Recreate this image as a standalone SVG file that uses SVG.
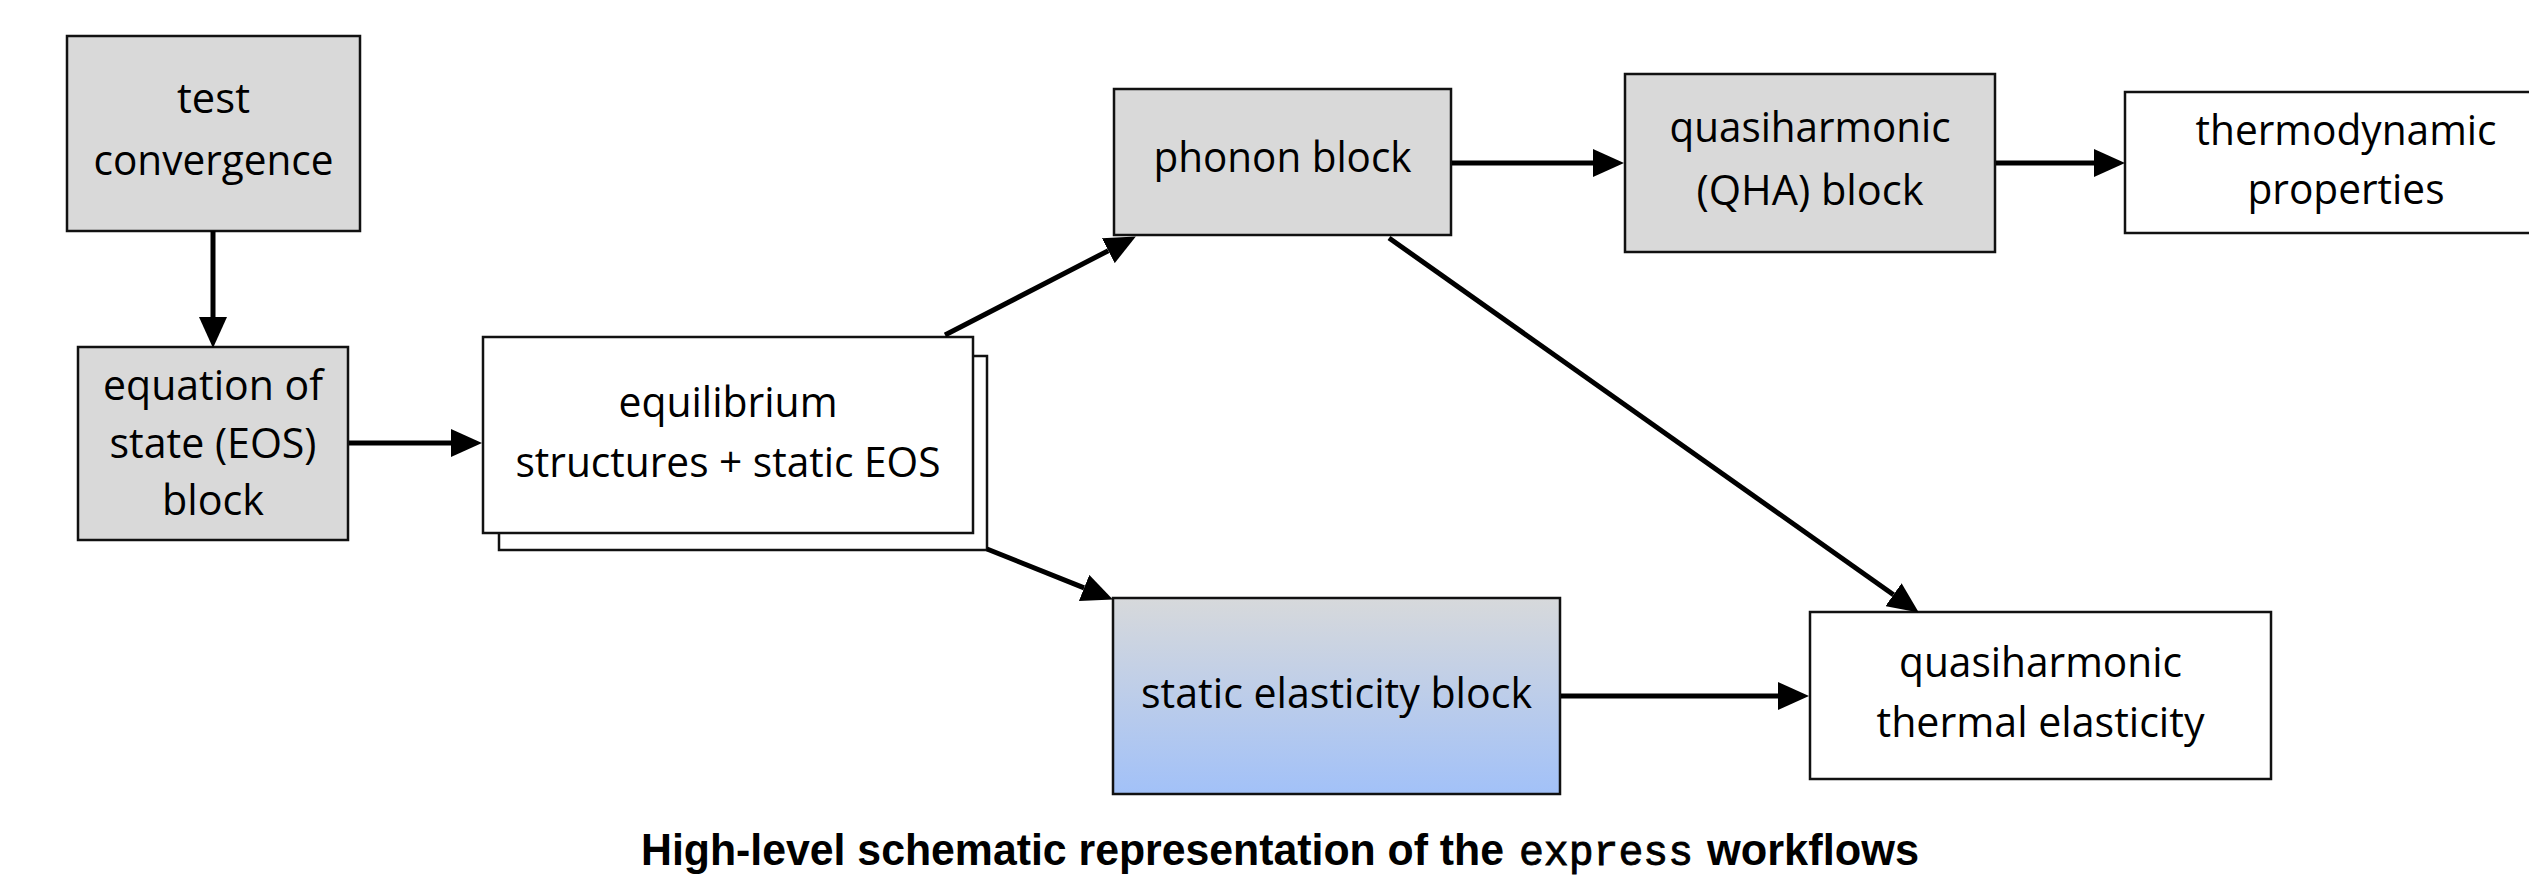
<svg xmlns="http://www.w3.org/2000/svg" width="2529" height="877" viewBox="0 0 2529 877">
<style>
.box{stroke:#111;stroke-width:2.5}
.gray{fill:#d9d9d9}
.white{fill:#fff}
.lbl{font-family:"Open Sans","Noto Sans","Liberation Sans",sans-serif;font-size:42px;fill:#000;text-anchor:middle}
.conn line{stroke:#000;stroke-width:5;fill:none}
.cap{font-family:"Liberation Sans",Arial,sans-serif;font-weight:bold;font-size:44px;fill:#000}
.mono{font-family:"Liberation Mono","Courier New",monospace;font-size:42px;fill:#000;stroke:#000;stroke-width:0.9}
</style>
<defs>
<marker id="ah" markerUnits="userSpaceOnUse" markerWidth="31" markerHeight="28" refX="0" refY="14" orient="auto">
<path d="M0,0 L31,14 L0,28 z" fill="#000"/>
</marker>
<linearGradient id="blue" x1="0" y1="0" x2="0" y2="1">
<stop offset="0" stop-color="#d7d9db"/>
<stop offset="1" stop-color="#a2c1f8"/>
</linearGradient>
</defs>
<rect width="2529" height="877" fill="#fff"/>

<g id="test-convergence">
<rect class="box gray" x="67" y="36" width="293" height="195"/>
<text class="lbl" x="213.5" y="113" textLength="73" lengthAdjust="spacingAndGlyphs">test</text>
<text class="lbl" x="213.5" y="175" textLength="240" lengthAdjust="spacingAndGlyphs">convergence</text>
</g>

<g id="eos-block">
<rect class="box gray" x="78" y="347" width="270" height="193"/>
<text class="lbl" x="213" y="400" textLength="220" lengthAdjust="spacingAndGlyphs">equation of</text>
<text class="lbl" x="213" y="458" textLength="207" lengthAdjust="spacingAndGlyphs">state (EOS)</text>
<text class="lbl" x="213" y="515" textLength="102" lengthAdjust="spacingAndGlyphs">block</text>
</g>

<g id="equilibrium">
<rect class="box white" x="499" y="356" width="488" height="194"/>
<rect class="box white" x="483" y="337" width="490" height="196"/>
<text class="lbl" x="728" y="417" textLength="219" lengthAdjust="spacingAndGlyphs">equilibrium</text>
<text class="lbl" x="728" y="477" textLength="425" lengthAdjust="spacingAndGlyphs">structures + static EOS</text>
</g>

<g id="phonon-block">
<rect class="box gray" x="1114" y="89" width="337" height="146"/>
<text class="lbl" x="1282.5" y="172" textLength="258" lengthAdjust="spacingAndGlyphs">phonon block</text>
</g>

<g id="qha-block">
<rect class="box gray" x="1625" y="74" width="370" height="178"/>
<text class="lbl" x="1810" y="142" textLength="281" lengthAdjust="spacingAndGlyphs">quasiharmonic</text>
<text class="lbl" x="1810" y="205" textLength="227" lengthAdjust="spacingAndGlyphs">(QHA) block</text>
</g>

<g id="thermodynamic-properties">
<rect class="box white" x="2125" y="92" width="445" height="141"/>
<text class="lbl" x="2346" y="145" textLength="301" lengthAdjust="spacingAndGlyphs">thermodynamic</text>
<text class="lbl" x="2346" y="204" textLength="197" lengthAdjust="spacingAndGlyphs">properties</text>
</g>

<g id="static-elasticity-block">
<rect class="box" fill="url(#blue)" x="1113" y="598" width="447" height="196"/>
<text class="lbl" x="1336.5" y="708" textLength="391" lengthAdjust="spacingAndGlyphs">static elasticity block</text>
</g>

<g id="quasiharmonic-thermal-elasticity">
<rect class="box white" x="1810" y="612" width="461" height="167"/>
<text class="lbl" x="2040.5" y="677" textLength="283" lengthAdjust="spacingAndGlyphs">quasiharmonic</text>
<text class="lbl" x="2040.5" y="737" textLength="328" lengthAdjust="spacingAndGlyphs">thermal elasticity</text>
</g>

<g id="connectors" class="conn">
<line x1="213" y1="231" x2="213" y2="317" marker-end="url(#ah)"/>
<line x1="349" y1="443" x2="451" y2="443" marker-end="url(#ah)"/>
<line x1="945" y1="335" x2="1108.3" y2="250.7" marker-end="url(#ah)"/>
<line x1="987" y1="549" x2="1084.1" y2="587.9" marker-end="url(#ah)"/>
<line x1="1452" y1="163" x2="1593" y2="163" marker-end="url(#ah)"/>
<line x1="1389" y1="238" x2="1893.5" y2="594.7" marker-end="url(#ah)"/>
<line x1="1996" y1="163" x2="2094" y2="163" marker-end="url(#ah)"/>
<line x1="1561" y1="696" x2="1778" y2="696" marker-end="url(#ah)"/>
</g>

<g id="caption">
<text class="cap" x="641" y="865" textLength="863" lengthAdjust="spacingAndGlyphs">High-level schematic representation of the</text>
<text class="mono" x="1519" y="865" textLength="174" lengthAdjust="spacingAndGlyphs">express</text>
<text class="cap" x="1707" y="865" textLength="212" lengthAdjust="spacingAndGlyphs">workflows</text>
</g>
</svg>
